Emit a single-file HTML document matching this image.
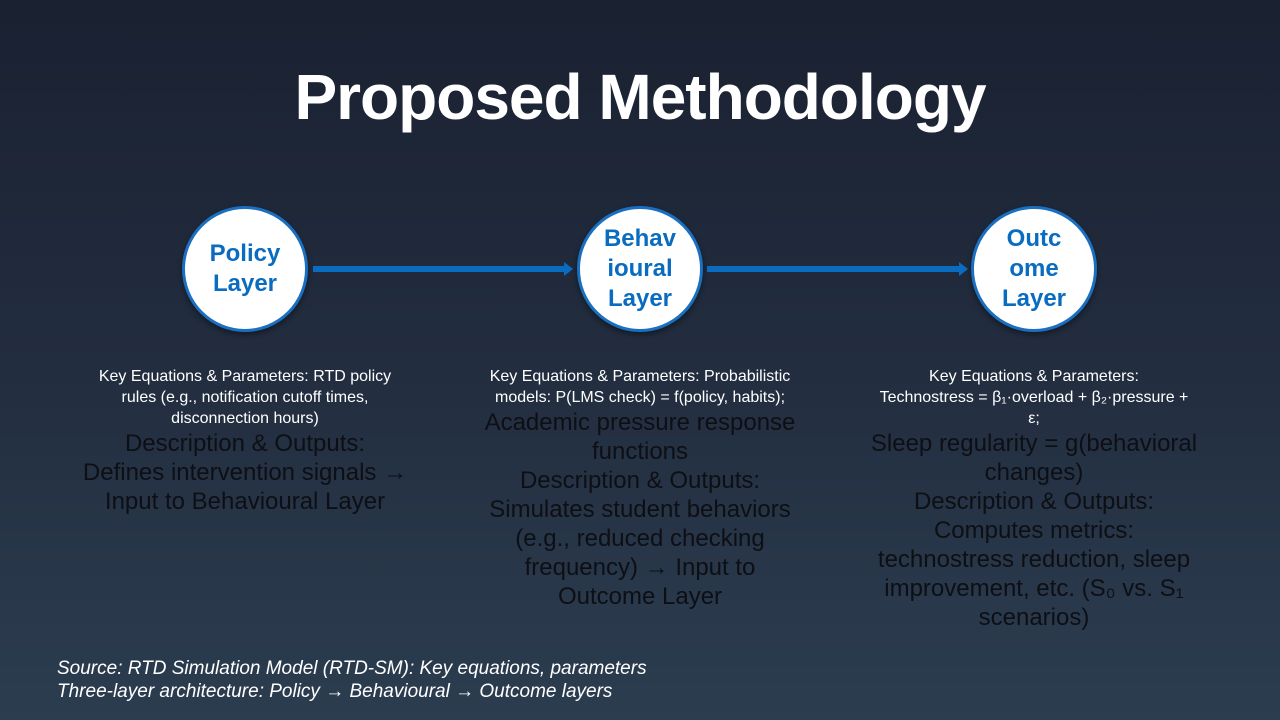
<!DOCTYPE html>
<html><head><meta charset="utf-8"><style>
body{margin:0;width:1280px;height:720px;overflow:hidden;background:linear-gradient(180deg,#1a2131 0%,#222d3f 50%,#2c3d50 100%);font-family:"Liberation Sans",sans-serif;position:relative}
.t{position:absolute;left:0;width:1280px;top:60px;text-align:center;color:#fff;font-weight:bold;font-size:64px;letter-spacing:-1px}
.c{position:absolute;width:120px;height:120px;border-radius:50%;background:#fff;border:3px solid #1a6fc0;box-shadow:0 3px 6px rgba(0,0,0,.4);display:flex;align-items:center;justify-content:center;text-align:center;color:#0a6cc0;font-weight:bold;font-size:24px;line-height:30px}
.a{position:absolute;height:6px;background:#0a6cc0;top:266px}
.h{position:absolute;top:262px;width:0;height:0;border-top:7px solid transparent;border-bottom:7px solid transparent;border-left:9px solid #0a6cc0}
.col{position:absolute;width:380px;text-align:center}
.s{color:#fff;font-size:16px;line-height:21px}
.l{color:#0d0f14;font-size:24px;line-height:29px}
.src{position:absolute;left:57px;top:657px;color:#fff;font-style:italic;font-size:19px;line-height:23px}
</style></head><body>
<div class="t">Proposed Methodology</div>
<div class="c" style="left:182px;top:206px">Policy<br>Layer</div>
<div class="c" style="left:577px;top:206px">Behav<br>ioural<br>Layer</div>
<div class="c" style="left:971px;top:206px">Outc<br>ome<br>Layer</div>
<div class="a" style="left:313px;width:252px"></div><div class="h" style="left:564px"></div>
<div class="a" style="left:707px;width:253px"></div><div class="h" style="left:959px"></div>
<div class="col" style="left:55px;top:366px"><div class="s">Key Equations &amp; Parameters: RTD policy<br>rules (e.g., notification cutoff times,<br>disconnection hours)</div><div class="l">Description &amp; Outputs:<br>Defines intervention signals →<br>Input to Behavioural Layer</div></div>
<div class="col" style="left:450px;top:366px"><div class="s">Key Equations &amp; Parameters: Probabilistic<br>models: P(LMS check) = f(policy, habits);</div><div class="l">Academic pressure response<br>functions<br>Description &amp; Outputs:<br>Simulates student behaviors<br>(e.g., reduced checking<br>frequency) → Input to<br>Outcome Layer</div></div>
<div class="col" style="left:844px;top:366px"><div class="s">Key Equations &amp; Parameters:<br>Technostress = β₁·overload + β₂·pressure +<br>ε;</div><div class="l">Sleep regularity = g(behavioral<br>changes)<br>Description &amp; Outputs:<br>Computes metrics:<br>technostress reduction, sleep<br>improvement, etc. (S₀ vs. S₁<br>scenarios)</div></div>
<div class="src">Source: RTD Simulation Model (RTD-SM): Key equations, parameters<br>Three-layer architecture: Policy → Behavioural → Outcome layers</div>
</body></html>
